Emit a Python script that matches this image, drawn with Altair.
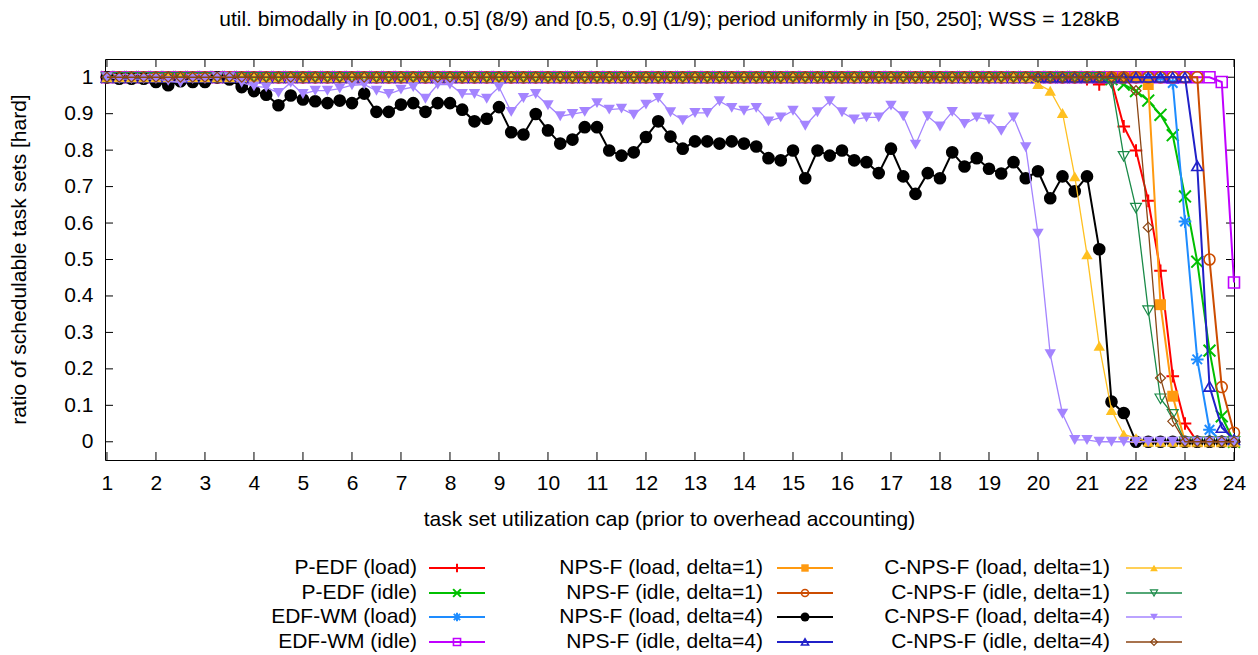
import altair as alt
import pandas as pd

TITLE = "util. bimodally in [0.001, 0.5] (8/9) and [0.5, 0.9] (1/9); period uniformly in [50, 250]; WSS = 128kB"
X_TITLE = "task set utilization cap (prior to overhead accounting)"
Y_TITLE = "ratio of schedulable task sets [hard]"

# utilization caps: 1.00, 1.25, ..., 24.00
CAP = [1 + 0.25 * i for i in range(93)]
X_TICKS = list(range(1, 25))
Y_TICKS = [0, 0.1, 0.2, 0.3, 0.4, 0.5, 0.6, 0.7, 0.8, 0.9, 1]

ONES16 = [1, 1, 1, 1, 1, 1, 1, 1, 1, 1, 1, 1, 1, 1, 1, 1]

P_EDF_LOAD = (ONES16 + ONES16 + ONES16 + ONES16 + ONES16 +
              [0.995, 0.98, 0.99, 0.865, 0.799, 0.661, 0.469, 0.18, 0.05, 0, 0, 0, 0])
P_EDF_IDLE = (ONES16 + ONES16 + ONES16 + ONES16 + ONES16 +
              [1, 1, 0.995, 0.98, 0.962, 0.936, 0.897, 0.841, 0.673, 0.494, 0.25, 0.07, 0])
EDF_WM_LOAD = (ONES16 + ONES16 + ONES16 + ONES16 + ONES16 +
               [1, 1, 1, 1, 1, 1, 1, 0.984, 0.604, 0.226, 0.033, 0, 0])
EDF_WM_IDLE = (ONES16 + ONES16 + ONES16 + ONES16 + ONES16 +
               [1, 1, 1, 1, 1, 1, 1, 1, 1, 1, 1, 0.987, 0.437])
NPSF_LOAD_D1 = (ONES16 + ONES16 + ONES16 + ONES16 + ONES16 +
                [1, 1, 1, 1, 1, 0.98, 0.376, 0.125, 0, 0, 0, 0, 0])
NPSF_IDLE_D1 = (ONES16 + ONES16 + ONES16 + ONES16 + ONES16 +
                [1, 1, 1, 1, 1, 1, 1, 1, 1, 1, 0.5, 0.15, 0.025])
NPSF_LOAD_D4 = [
    1.0, 0.996, 0.996, 0.996, 0.987, 0.978, 0.989, 0.987, 0.987, 1.0, 0.994, 0.973, 0.962, 0.952, 0.923, 0.950,
    0.939, 0.934, 0.929, 0.936, 0.929, 0.955, 0.905, 0.905, 0.925, 0.929, 0.905, 0.929, 0.929, 0.911, 0.879, 0.886,
    0.918, 0.849, 0.843, 0.899, 0.854, 0.818, 0.829, 0.863, 0.863, 0.799, 0.785, 0.794, 0.836, 0.879, 0.837, 0.804,
    0.824, 0.824, 0.818, 0.824, 0.818, 0.810, 0.778, 0.772, 0.799, 0.723, 0.799, 0.785, 0.799, 0.772, 0.767, 0.737,
    0.804, 0.728, 0.680, 0.737, 0.723, 0.794, 0.755, 0.778, 0.749, 0.736, 0.767, 0.723, 0.742, 0.668, 0.728, 0.687,
    0.728, 0.528, 0.110, 0.079, 0, 0, 0, 0, 0, 0, 0, 0, 0,
]
NPSF_IDLE_D4 = (ONES16 + ONES16 + ONES16 + ONES16 + ONES16 +
                [1, 1, 1, 1, 1, 1, 1, 1, 1, 0.757, 0.152, 0.039, 0.006])
CNPSF_LOAD_D1 = (ONES16 + ONES16 + ONES16 + ONES16 +
                 [1, 1, 1, 1, 1, 1, 1, 1, 1, 1, 1, 1, 0.981, 0.963, 0.902, 0.728] +
                 [0.514, 0.263, 0.087, 0.02, 0.01, 0, 0, 0, 0, 0, 0, 0, 0])
CNPSF_IDLE_D1 = (ONES16 + ONES16 + ONES16 + ONES16 + ONES16 +
                 [1, 1, 0.984, 0.783, 0.641, 0.36, 0.118, 0.075, 0, 0, 0, 0, 0])
CNPSF_LOAD_D4 = [
    1.0, 0.995, 0.995, 0.995, 0.995, 0.99, 0.985, 0.995, 0.995, 1.0, 1.0, 0.985, 0.975, 0.972, 0.957, 0.985,
    0.954, 0.963, 0.963, 0.969, 0.978, 0.98, 0.963, 0.954, 0.966, 0.973, 0.941, 0.980, 0.980, 0.954, 0.954, 0.941,
    0.973, 0.905, 0.943, 0.954, 0.923, 0.893, 0.899, 0.905, 0.929, 0.911, 0.914, 0.897, 0.925, 0.943, 0.904, 0.882,
    0.902, 0.902, 0.934, 0.916, 0.908, 0.916, 0.879, 0.890, 0.908, 0.867, 0.904, 0.934, 0.904, 0.884, 0.890, 0.890,
    0.922, 0.893, 0.815, 0.893, 0.865, 0.905, 0.872, 0.890, 0.884, 0.853, 0.890, 0.808, 0.571, 0.240, 0.077, 0.005,
    0.005, 0, 0, 0, 0, 0, 0, 0, 0, 0, 0, 0, 0,
]
CNPSF_IDLE_D4 = (ONES16 + ONES16 + ONES16 + ONES16 + ONES16 +
                 [1, 1, 1, 1, 0.963, 0.588, 0.175, 0.056, 0, 0, 0, 0, 0])

NAMES = [
    "P-EDF (load)", "P-EDF (idle)", "EDF-WM (load)", "EDF-WM (idle)",
    "NPS-F (load, delta=1)", "NPS-F (idle, delta=1)", "NPS-F (load, delta=4)", "NPS-F (idle, delta=4)",
    "C-NPS-F (load, delta=1)", "C-NPS-F (idle, delta=1)", "C-NPS-F (load, delta=4)", "C-NPS-F (idle, delta=4)",
]
VALUES = [
    P_EDF_LOAD, P_EDF_IDLE, EDF_WM_LOAD, EDF_WM_IDLE,
    NPSF_LOAD_D1, NPSF_IDLE_D1, NPSF_LOAD_D4, NPSF_IDLE_D4,
    CNPSF_LOAD_D1, CNPSF_IDLE_D1, CNPSF_LOAD_D4, CNPSF_IDLE_D4,
]

# ---- styles ----
PLUS = "M-1,0L1,0M0,-1L0,1"
XMARK = "M-1,-1L1,1M-1,1L1,-1"
STAR = "M-1,0L1,0M0,-1L0,1M-0.75,-0.75L0.75,0.75M-0.75,0.75L0.75,-0.75"
COLORS = ["#ff0000", "#00c000", "#1e8cff", "#c000ff",
          "#ff9a10", "#cc4c00", "#000000", "#2020c8",
          "#ffc020", "#1a8a48", "#a484ff", "#8b4513"]
SHAPES = [PLUS, XMARK, STAR, "square", "square", "circle", "circle", "triangle-up",
          "triangle-up", "triangle-down", "triangle-down", "diamond"]
FILLED = [False, False, False, False, True, False, True, False, True, False, True, False]
LINE_W = [2, 2, 2, 2, 2, 2, 2, 2, 1.3, 1.3, 1.3, 1.3]
PT_SIZE = [160, 140, 160, 120, 120, 120, 160, 120, 130, 120, 130, 100]
PT_W = [2, 2, 2, 1.6, 1, 1.6, 1, 1.6, 1, 1.2, 1, 1.2]
LEG_SIZE = [70, 60, 70, 50, 55, 50, 80, 50, 60, 50, 60, 45]

FONT = "Liberation Sans"
FS = 21
W, H = 1129, 401

xscale = alt.Scale(domain=[0.96, 24], nice=False, zero=False)
yscale = alt.Scale(domain=[-0.05, 1.05], nice=False, zero=False)
xaxis = alt.Axis(values=X_TICKS, format="d", title=None, labelPadding=12, tickSize=0, labelFlush=False,
                 labelFont=FONT, labelFontSize=FS, labelColor="black", grid=False, domain=False, ticks=False)
yaxis = alt.Axis(values=Y_TICKS, format="~g", title=None, labelPadding=12, tickSize=0,
                 labelFont=FONT, labelFontSize=FS, labelColor="black", grid=False, domain=False, ticks=False)

layers = []

# inward tick marks on all four sides
ytick_df = pd.DataFrame({"v": Y_TICKS})
xtick_df = pd.DataFrame({"u": X_TICKS})
layers.append(alt.Chart(ytick_df).mark_rule(color="black", strokeWidth=1).encode(
    y=alt.Y("v:Q", scale=yscale, axis=yaxis), x=alt.value(0), x2=alt.value(8)))
layers.append(alt.Chart(ytick_df).mark_rule(color="black", strokeWidth=1).encode(
    y=alt.Y("v:Q", scale=yscale, axis=yaxis), x=alt.value(W - 8), x2=alt.value(W)))
layers.append(alt.Chart(xtick_df).mark_rule(color="black", strokeWidth=1).encode(
    x=alt.X("u:Q", scale=xscale, axis=xaxis), y=alt.value(H - 8), y2=alt.value(H)))
layers.append(alt.Chart(xtick_df).mark_rule(color="black", strokeWidth=1).encode(
    x=alt.X("u:Q", scale=xscale, axis=xaxis), y=alt.value(0), y2=alt.value(8)))

for i, name in enumerate(NAMES):
    df = pd.DataFrame({"cap": CAP, "ratio": VALUES[i]})
    base = alt.Chart(df).encode(
        x=alt.X("cap:Q", scale=xscale, axis=xaxis),
        y=alt.Y("ratio:Q", scale=yscale, axis=yaxis),
    )
    layers.append(base.mark_line(color=COLORS[i], strokeWidth=LINE_W[i]))
    layers.append(base.mark_point(shape=SHAPES[i], filled=FILLED[i], color=COLORS[i],
                                  size=PT_SIZE[i], strokeWidth=PT_W[i], opacity=1))

one = pd.DataFrame({"k": [0]})


def text_layer(txt, x, y, align="center", angle=0):
    return alt.Chart(one).mark_text(text=txt, align=align, baseline="middle", font=FONT,
                                    fontSize=FS, color="black", angle=angle).encode(
        x=alt.value(x), y=alt.value(y))


layers.append(text_layer(TITLE, W / 2, -39))
layers.append(text_layer(X_TITLE, W / 2, 461))
layers.append(text_layer(Y_TITLE, -85, H / 2, angle=270))

# legend (label, then line sample with marker), 3 columns x 4 rows
COL_TEXT_X = [312, 658, 1005]
COL_LINE_X = [(324, 380), (672, 728), (1021, 1077)]
ROW_Y = [509, 534, 558, 583]
for i, name in enumerate(NAMES):
    c, r = i // 4, i % 4
    y = ROW_Y[r]
    x1, x2 = COL_LINE_X[c]
    layers.append(text_layer(name, COL_TEXT_X[c], y, align="right"))
    layers.append(alt.Chart(one).mark_rule(color=COLORS[i], strokeWidth=LINE_W[i]).encode(
        x=alt.value(x1), x2=alt.value(x2), y=alt.value(y)))
    layers.append(alt.Chart(one).mark_point(shape=SHAPES[i], filled=FILLED[i], color=COLORS[i],
                                            size=LEG_SIZE[i], strokeWidth=PT_W[i], opacity=1).encode(
        x=alt.value((x1 + x2) / 2), y=alt.value(y)))

chart = alt.layer(*layers).properties(
    width=W, height=H,
    autosize=alt.AutoSizeParams(type="none"),
    padding={"left": 97, "top": 51, "right": 16, "bottom": 192},
).configure_view(stroke="black", strokeWidth=1)

chart.save("out.html", embed_options={"renderer": "svg", "actions": False})
